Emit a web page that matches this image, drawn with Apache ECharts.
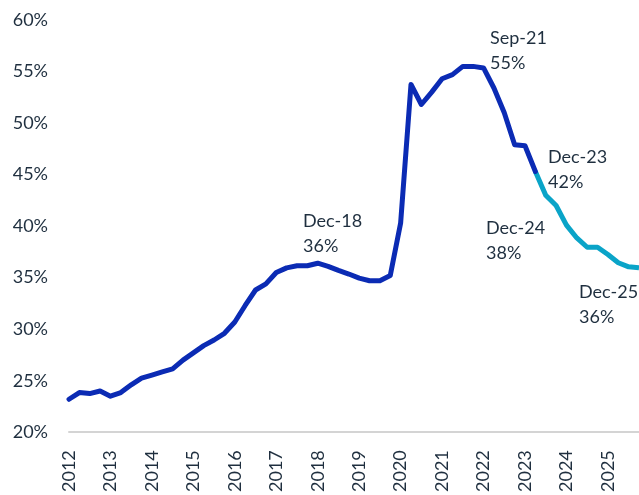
<!DOCTYPE html>
<html>
<head>
<meta charset="utf-8">
<script src="https://cdn.jsdelivr.net/npm/echarts@6/dist/echarts.min.js"></script>
<style>
  html, body { margin: 0; padding: 0; background: #fff; }
  #chart { width: 639px; height: 495px; }
</style>
</head>
<body>
<div id="chart"></div>
<script>
// === Datos (trimestrales, 2012 Q1 -> 2025 Q4) ================================
const years = [2012, 2013, 2014, 2015, 2016, 2017, 2018, 2019, 2020, 2021, 2022, 2023, 2024, 2025];
const quarters = years.flatMap(y => ['Q1', 'Q2', 'Q3', 'Q4'].map(q => `${y}-${q}`));

// histórico hasta Jun-23
const actual = [
  23.2, 23.85, 23.75, 24.0,
  23.5, 23.85, 24.6, 25.25,
  25.55, 25.85, 26.15, 27.0,
  27.7, 28.4, 28.95, 29.6,
  30.7, 32.3, 33.8, 34.4,
  35.5, 35.95, 36.15, 36.15,
  36.4, 36.1, 35.7, 35.35,
  34.95, 34.7, 34.7, 35.2,
  40.3, 53.75, 51.8, 53.0,
  54.3, 54.7, 55.5, 55.5,
  55.35, 53.4, 51.0, 47.9,
  47.8, 45.3
];
// proyección desde Jun-23
const forecast = [45.3, 43.0, 42.0, 40.1, 38.85, 37.95, 37.95, 37.25, 36.45, 36.05, 35.95];

// anotaciones
const notes = [
  { text: 'Dec-18\n36%', x: 303, y: 209 },
  { text: 'Sep-21\n55%', x: 490, y: 26 },
  { text: 'Dec-23\n42%', x: 548, y: 145 },
  { text: 'Dec-24\n38%', x: 486, y: 216 },
  { text: 'Dec-25\n36%', x: 579, y: 280 }
];

// === Estilos ================================================================
const dark = '#0b2bb4', light = '#0aa4c8', ink = '#1f2f3f', axisGray = '#d4d4d4';
const FONT = 'Lato';

const actualData = quarters.map((_, i) => i < actual.length ? actual[i] : null);
const fcStart = actual.length - 1;
const forecastData = quarters.map((_, i) => (i >= fcStart && i - fcStart < forecast.length) ? forecast[i - fcStart] : null);

const chart = echarts.init(document.getElementById('chart'));
chart.setOption({
  animation: false,
  grid: { left: 69, right: 0, top: 20, bottom: 59 },
  xAxis: {
    type: 'category',
    data: quarters,
    boundaryGap: false,
    axisLine: { lineStyle: { color: axisGray, width: 2 } },
    axisTick: { show: false },
    axisLabel: {
      interval: 3, rotate: 90, margin: 18,
      color: ink, fontFamily: FONT, fontSize: 18,
      formatter: v => v.slice(0, 4)
    },
    splitLine: { show: false }
  },
  yAxis: {
    type: 'value', min: 20, max: 60, interval: 5,
    axisLine: { show: false },
    axisTick: { show: false },
    splitLine: { show: false },
    axisLabel: { color: ink, fontFamily: FONT, fontSize: 18, margin: 21, formatter: v => v + '%' }
  },
  series: [
    { type: 'line', data: actualData, symbol: 'none', lineStyle: { color: dark, width: 5, join: 'round', cap: 'round' }, z: 3 },
    { type: 'line', data: forecastData, symbol: 'none', lineStyle: { color: light, width: 5, join: 'round' }, z: 2 }
  ],
  graphic: notes.map(n => ({
    type: 'text', left: n.x, top: n.y,
    style: { text: n.text, fill: ink, font: `18px ${FONT}`, lineHeight: 25 }
  }))
});
</script>
</body>
</html>
